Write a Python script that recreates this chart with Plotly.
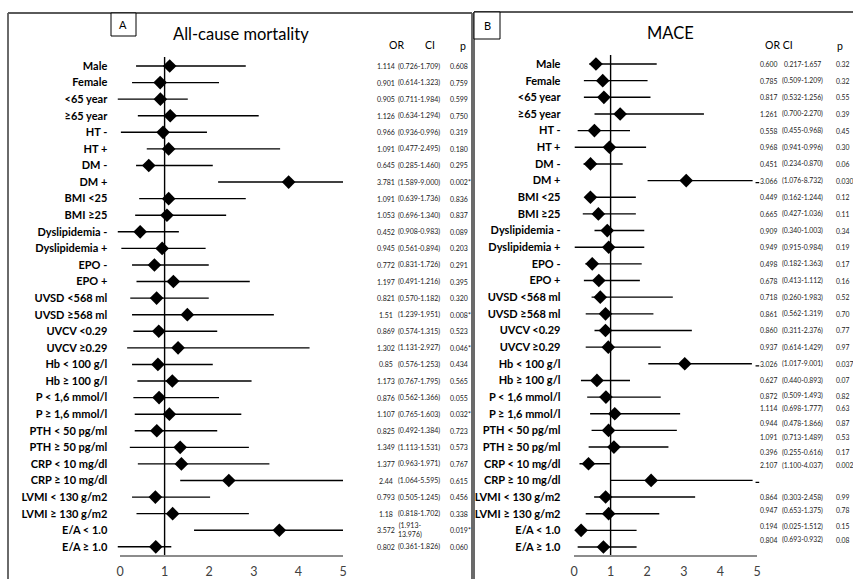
import plotly.graph_objects as go

W, H = 853, 579

# ---------------- data ----------------
labels = ["Male", "Female", "<65 year", "≥65 year", "HT -", "HT +", "DM -", "DM +",
          "BMI <25", "BMI ≥25", "Dyslipidemia -", "Dyslipidemia +", "EPO -", "EPO +",
          "UVSD <568 ml", "UVSD ≥568 ml", "UVCV <0.29", "UVCV ≥0.29",
          "Hb < 100 g/l", "Hb ≥ 100 g/l", "P < 1,6 mmol/l", "P ≥ 1,6 mmol/l",
          "PTH < 50 pg/ml", "PTH ≥ 50 pg/ml", "CRP < 10 mg/dl", "CRP ≥ 10 mg/dl",
          "LVMI < 130 g/m2", "LVMI ≥ 130 g/m2", "E/A < 1.0", "E/A ≥ 1.0"]

# Panel A: all-cause mortality
or_a = [1.114, 0.901, 0.905, 1.126, 0.966, 1.091, 0.645, 3.781, 1.091, 1.053,
        0.452, 0.945, 0.772, 1.197, 0.821, 1.51, 0.869, 1.302, 0.85, 1.173,
        0.876, 1.107, 0.825, 1.349, 1.377, 2.44, 0.793, 1.18, 3.572, 0.802]
bar_lo_a = [0.36, 0.27, -0.05, 0.40, 0.02, 0.60, 0.36, 2.20, 0.43, 0.34,
            -0.05, 0.03, 0.27, 0.37, 0.23, 0.27, 0.30, 0.16, 0.27, 0.39,
            0.30, 0.33, 0.33, 0.22, 0.40, 1.35, 0.27, 0.37, 1.66, -0.05]
bar_hi_a = [2.82, 2.22, 1.52, 3.11, 1.95, 3.59, 2.08, 5.0, 2.82, 2.38,
            1.32, 1.92, 1.99, 2.91, 1.99, 3.45, 2.18, 4.25, 2.08, 2.95,
            2.22, 2.72, 2.18, 2.89, 3.35, 5.0, 2.02, 2.89, 5.0, 1.15]
or_txt_a = ["1.114", "0.901", "0.905", "1.126", "0.966", "1.091", "0.645", "3.781", "1.091", "1.053",
            "0.452", "0.945", "0.772", "1.197", "0.821", "1.51", "0.869", "1.302", "0.85", "1.173",
            "0.876", "1.107", "0.825", "1.349", "1.377", "2.44", "0.793", "1.18", "3.572", "0.802"]
ci_txt_a = ["(0.726-1.709)", "(0.614-1.323)", "(0.711-1.984)", "(0.634-1.294)", "(0.936-0.996)",
            "(0.477-2.495)", "(0.285-1.460)", "(1.589-9.000)", "(0.639-1.736)", "(0.696-1.340)",
            "(0.908-0.983)", "(0.561-0.894)", "(0.831-1.726)", "(0.491-1.216)", "(0.570-1.182)",
            "(1.239-1.951)", "(0.574-1.315)", "(1.131-2.927)", "(0.576-1.253)", "(0.767-1.795)",
            "(0.562-1.366)", "(0.765-1.603)", "(0.492-1.384)", "(1.113-1.531)", "(0.963-1.971)",
            "(1.064-5.595)", "(0.505-1.245)", "(0.818-1.702)", "(1.913-<br>13.976)", "(0.361-1.826)"]
p_txt_a = ["0.608", "0.759", "0.599", "0.750", "0.319", "0.180", "0.295", "0.002*", "0.836", "0.837",
           "0.089", "0.203", "0.291", "0.395", "0.320", "0.008*", "0.523", "0.046*", "0.434", "0.565",
           "0.055", "0.032*", "0.723", "0.573", "0.767", "0.615", "0.456", "0.338", "0.019*", "0.060"]

# Panel B: MACE
or_b = [0.600, 0.785, 0.817, 1.261, 0.558, 0.968, 0.451, 3.066, 0.449, 0.665,
        0.909, 0.949, 0.498, 0.678, 0.718, 0.861, 0.860, 0.937, 3.026, 0.627,
        0.872, 1.114, 0.944, 1.091, 0.396, 2.107, 0.864, 0.947, 0.194, 0.804]
bar_lo_b = [0.42, 0.27, 0.27, 0.56, 0.10, 0.02, 0.26, 2.01, 0.32, 0.24,
            0.56, 0.02, 0.31, 0.27, 0.48, 0.32, 0.56, 0.32, 2.03, 0.19,
            0.36, 0.44, 0.48, 0.40, 0.15, 1.0, 0.55, 0.32, 0.09, 0.10]
bar_hi_b = [2.26, 2.01, 2.09, 3.55, 1.53, 1.97, 1.33, 4.88, 1.69, 1.69,
            1.92, 1.92, 1.85, 1.80, 2.70, 2.17, 3.22, 2.37, 4.86, 1.53,
            2.37, 2.90, 2.81, 2.58, 0.98, 4.88, 3.31, 2.33, 1.71, 1.71]
or_txt_b = ["0.600", "0.785", "0.817", "1.261", "0.558", "0.968", "0.451", "3.066", "0.449", "0.665",
            "0.909", "0.949", "0.498", "0.678", "0.718", "0.861", "0.860", "0.937", "3.026", "0.627",
            "0.872", "1.114", "0.944", "1.091", "0.396", "2.107", "0.864", "0.947", "0.194", "0.804"]
ci_txt_b = ["0.217-1.657", "(0.509-1.209)", "(0.532-1.256)", "(0.700-2.270)", "(0.455-0.968)",
            "(0.941-0.996)", "(0.234-0.870)", "(1.076-8.732)", "(0.162-1.244)", "(0.427-1.036)",
            "(0.340-1.003)", "(0.915-0.984)", "(0.182-1.363)", "(0.413-1.112)", "(0.260-1.983)",
            "(0.562-1.319)", "(0.311-2.376)", "(0.614-1.429)", "(1.017-9.001)", "(0.440-0.893)",
            "(0.509-1.493)", "(0.698-1.777)", "(0.478-1.866)", "(0.713-1.489)", "(0.255-0.616)",
            "(1.100-4.037)", "(0.303-2.458)", "(0.653-1.375)", "(0.025-1.512)", "(0.693-0.932)"]
p_txt_b = ["0.32", "0.32", "0.55", "0.39", "0.45", "0.30", "0.06", "0.030", "0.12", "0.11",
           "0.34", "0.19", "0.17", "0.16", "0.52", "0.70", "0.77", "0.97", "0.037", "0.07",
           "0.82", "0.63", "0.87", "0.53", "0.17", "0.002", "0.99", "0.78", "0.15", "0.08"]
continued_b = [7, 18, 25]   # rows whose bar runs off the scale

xticks = [0, 1, 2, 3, 4, 5]

# ---------------- layout helpers ----------------
FONT = "Lato"
rows = list(range(len(labels)))
AXIS_PX = 556


def pxx(p):
    return p / W


def pxy(p):
    return 1 - p / H


def xdomain(px0, px5, lo=-0.15, hi=5.15):
    u = (px5 - px0) / 5.0
    return [(px0 + lo * u) / W, (px0 + hi * u) / W], [lo, hi]


def yaxis_range(row0, step, top=50, bottom=AXIS_PX):
    return [(bottom - row0) / step, (top - row0) / step], [1 - bottom / H, 1 - top / H]


xdomA, xrngA = xdomain(120, 343)
xdomB, xrngB = xdomain(574, 757)
yrngA, ydomA = yaxis_range(66, 16.58)
yrngB, ydomB = yaxis_range(64, 16.655)

fig = go.Figure()


def forest(orv, lo, hi, xa, ya):
    fig.add_trace(go.Scatter(
        x=orv, y=rows, mode="markers", xaxis=xa, yaxis=ya,
        marker=dict(symbol="diamond", size=10.5, color="black", line=dict(width=0)),
        error_x=dict(type="data", symmetric=False,
                     array=[h - o for h, o in zip(hi, orv)],
                     arrayminus=[o - l for o, l in zip(orv, lo)],
                     width=0, thickness=1.4, color="black"),
        showlegend=False, hoverinfo="skip"))


forest(or_a, bar_lo_a, bar_hi_a, "x", "y")
forest(or_b, bar_lo_b, bar_hi_b, "x2", "y2")

# small continuation dashes in panel B
dx, dy = [], []
for r in continued_b:
    dx += [4.96, 5.06, None]
    dy += [r + 0.12, r + 0.12, None]
fig.add_trace(go.Scatter(x=dx, y=dy, mode="lines", xaxis="x2", yaxis="y2",
                         line=dict(color="black", width=1.2), showlegend=False, hoverinfo="skip"))

axis_common = dict(showgrid=False, zeroline=False, showline=False, ticks="", automargin=False,
                   tickvals=xticks, ticktext=[str(t) for t in xticks],
                   tickfont=dict(family=FONT, size=12.5, color="#404040"),
                   ticklabelstandoff=6, fixedrange=True)
yaxis_common = dict(showgrid=False, zeroline=False, showline=False, ticks="", automargin=False,
                    tickvals=rows, ticktext=labels,
                    tickfont=dict(family=FONT, size=11, color="black", weight="bold"),
                    fixedrange=True)

fig.update_layout(
    width=W, height=H, margin=dict(l=0, r=0, t=0, b=0, autoexpand=False),
    paper_bgcolor="white", plot_bgcolor="rgba(0,0,0,0)",
    xaxis=dict(domain=xdomA, range=xrngA, anchor="y", **axis_common),
    yaxis=dict(domain=ydomA, range=yrngA, anchor="x", ticklabelstandoff=5, **yaxis_common),
    xaxis2=dict(domain=xdomB, range=xrngB, anchor="y2", **axis_common),
    yaxis2=dict(domain=ydomB, range=yrngB, anchor="x2", ticklabelstandoff=7, **yaxis_common),
)

shapes = []
border = dict(color="#5a5a5a", width=1.8)
# panel frames
shapes += [
    dict(type="line", xref="paper", yref="paper", x0=pxx(8), x1=pxx(8), y0=pxy(13), y1=pxy(590), line=border),
    dict(type="line", xref="paper", yref="paper", x0=pxx(8), x1=pxx(472), y0=pxy(13), y1=pxy(13), line=border),
    dict(type="line", xref="paper", yref="paper", x0=pxx(472), x1=pxx(472), y0=pxy(13), y1=pxy(590), line=border),
    dict(type="line", xref="paper", yref="paper", x0=pxx(474), x1=pxx(474), y0=pxy(12), y1=pxy(590), line=border),
    dict(type="line", xref="paper", yref="paper", x0=pxx(474), x1=pxx(860), y0=pxy(12), y1=pxy(12), line=border),
]
# letter boxes
shapes += [
    dict(type="rect", xref="paper", yref="paper", x0=pxx(111), x1=pxx(136), y0=pxy(36), y1=pxy(13),
         line=dict(color="black", width=1), fillcolor="white"),
    dict(type="rect", xref="paper", yref="paper", x0=pxx(474), x1=pxx(500), y0=pxy(39), y1=pxy(12),
         line=dict(color="black", width=1), fillcolor="white"),
]
# reference lines and baseline axes
for xa in ["x", "x2"]:
    top = 57 if xa == "x" else 55
    shapes.append(dict(type="line", xref=xa, yref="paper", x0=1, x1=1, y0=pxy(AXIS_PX), y1=pxy(top),
                       line=dict(color="black", width=1.4), layer="below"))
    shapes.append(dict(type="line", xref=xa, yref="paper", x0=0, x1=5, y0=pxy(AXIS_PX), y1=pxy(AXIS_PX),
                       line=dict(color="#8c8c8c", width=2), layer="below"))
fig.update_layout(shapes=shapes)

ann = []


def text(x, y, s, size, xanchor="center", yref="paper", color="#222", weight="normal"):
    ann.append(dict(x=x, y=y, xref="paper", yref=yref, text=s, showarrow=False,
                    xanchor=xanchor, yanchor="middle",
                    font=dict(family=FONT, size=size, color=color, weight=weight)))


text(pxx(123.5), pxy(24.5), "A", 11, color="black")
text(pxx(487), pxy(25), "B", 11, color="black")
text(pxx(241), pxy(34), "All-cause mortality", 16.5, color="black")
text(pxx(670), pxy(33), "MACE", 16.5, color="black")
text(pxx(396), pxy(45), "OR", 10.5, color="black")
text(pxx(430), pxy(45), "CI", 10.5, color="black")
text(pxx(463), pxy(46), "p", 10.5, color="black")
text(pxx(763), pxy(45), "OR CI", 10.5, xanchor="left", color="black")
text(pxx(835), pxy(46), "p", 10.5, xanchor="left", color="black")

# table rows (panel B rows near the bottom sit slightly higher than the marks)
shift_b = [0] * 20 + [-1.5, -5.5, -7, -10, -11.5, -15, 0, -3.5, -4, -7.5]
for i in rows:
    text(pxx(386), i, or_txt_a[i], 7, yref="y")
    text(pxx(396), i, ci_txt_a[i], 7, xanchor="left", yref="y")
    text(pxx(448), i, p_txt_a[i], 7, xanchor="left", yref="y")
    yb = i + shift_b[i] / 16.655
    text(pxx(758), yb, or_txt_b[i], 6.8, xanchor="left", yref="y2")
    text(pxx(802), yb, ci_txt_b[i], 6.8, yref="y2")
    text(pxx(834), yb, p_txt_b[i], 6.8, xanchor="left", yref="y2")

fig.update_layout(annotations=ann)
fig.write_html("out.html", config={"displayModeBar": False},
               post_script="document.body.style.margin='0';document.body.style.overflow='hidden';")
